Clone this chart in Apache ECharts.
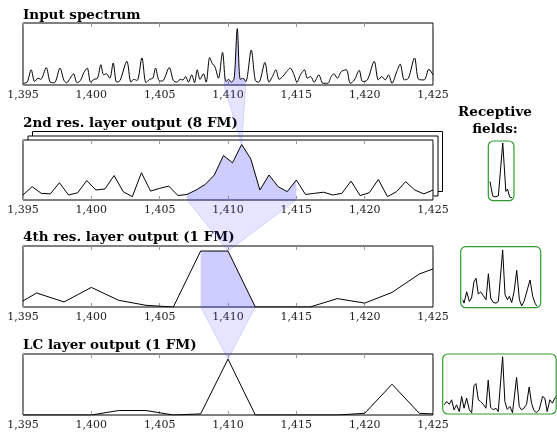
<!DOCTYPE html>
<html><head><meta charset="utf-8">
<script src="https://cdn.jsdelivr.net/npm/echarts@6/dist/echarts.min.js"></script>
<style>html,body{margin:0;padding:0;background:#fff}#c{width:557px;height:433px}</style>
</head><body><div id="c"></div>
<script>
// ---------- data ----------
const xTicks = [1395, 1400, 1405, 1410, 1415, 1420, 1425];

const inputX = [1395.0,1395.3,1395.6,1395.85,1396.1,1396.3,1396.7,1397.0,1397.3,1397.7,1398.0,1398.2,1398.45,1398.7,1398.95,1399.2,1399.45,1399.7,1399.95,1400.2,1400.45,1400.7,1400.9,1401.1,1401.35,1401.6,1401.85,1402.1,1402.6,1402.9,1403.1,1403.35,1403.7,1404.0,1404.25,1404.5,1404.7,1404.95,1405.2,1405.7,1406.0,1406.25,1406.5,1406.7,1406.9,1407.1,1407.35,1407.55,1407.75,1407.95,1408.2,1408.4,1408.66,1408.85,1409.05,1409.3,1409.6,1409.85,1410.05,1410.25,1410.45,1410.68,1410.9,1411.1,1411.3,1411.7,1412.0,1412.25,1412.7,1413.0,1413.25,1413.5,1413.75,1414.0,1414.3,1414.56,1414.8,1415.05,1415.3,1415.6,1415.8,1416.05,1416.3,1416.65,1416.95,1417.3,1417.55,1417.75,1418.0,1418.3,1418.66,1418.95,1419.25,1419.6,1419.85,1420.2,1420.7,1421.0,1421.25,1421.5,1421.75,1422.0,1422.35,1422.6,1422.9,1423.2,1423.65,1423.95,1424.35,1424.7,1425.0];
const inputY = [0.03,0.05,0.27,0.06,0.12,0.10,0.31,0.05,0.04,0.30,0.08,0.04,0.12,0.20,0.04,0.08,0.22,0.30,0.05,0.10,0.12,0.36,0.18,0.20,0.12,0.39,0.05,0.08,0.42,0.05,0.10,0.08,0.48,0.04,0.10,0.12,0.30,0.08,0.07,0.31,0.08,0.05,0.10,0.09,0.15,0.05,0.18,0.04,0.27,0.10,0.20,0.05,0.49,0.38,0.32,0.12,0.58,0.06,0.10,0.05,0.12,1.00,0.10,0.12,0.06,0.62,0.08,0.05,0.40,0.05,0.15,0.27,0.10,0.15,0.24,0.30,0.20,0.05,0.18,0.27,0.12,0.15,0.05,0.18,0.03,0.03,0.15,0.20,0.12,0.24,0.27,0.03,0.09,0.26,0.06,0.09,0.42,0.09,0.15,0.09,0.18,0.03,0.24,0.37,0.09,0.12,0.48,0.10,0.09,0.28,0.18];

// 2nd residual layer: 46 samples across 1395..1425
const res2Y = [0.09,0.24,0.12,0.11,0.31,0.09,0.13,0.35,0.18,0.20,0.44,0.15,0.06,0.49,0.16,0.21,0.25,0.08,0.10,0.18,0.28,0.45,0.80,0.67,1.00,0.74,0.18,0.45,0.24,0.15,0.36,0.10,0.12,0.14,0.09,0.12,0.34,0.08,0.13,0.37,0.06,0.15,0.33,0.18,0.11,0.18];
const res2X = res2Y.map((_, i) => xTicks[0] + i * (xTicks[6] - xTicks[0]) / (res2Y.length - 1));

const res4X = [1395,1396,1398,1400,1402,1404,1406,1408,1410,1412,1414,1416,1418,1420,1422,1424,1425];
const res4Y = [0.11,0.25,0.09,0.35,0.12,0.03,0.0,1.0,1.0,0.0,0.0,0.0,0.15,0.07,0.26,0.59,0.68];

const lcX = [1395,1396,1398,1400,1402,1404,1406,1408,1410,1412,1414,1416,1418,1420,1422,1424,1425];
const lcY = [0,0,0,0,0.08,0.08,0,0.02,1.0,0,0,0,0,0.03,0.55,0.03,0.02];

// receptive fields (relative position 0..1, weight)
const rf1X = [0,0.12,0.23,0.38,0.58,0.72,0.80,0.89,1.0];
const rf1Y = [0.30,0.04,0.02,0.04,1.0,0.12,0.16,0.02,0.0];
const rf2X = [0,0.018,0.054,0.09,0.12,0.153,0.18,0.21,0.243,0.279,0.315,0.347,0.378,0.414,0.45,0.482,0.54,0.572,0.604,0.63,0.662,0.694,0.73,0.766,0.797,0.829,0.856,0.91,0.946,0.977,1.0];
const rf2Y = [0.12,0.06,0.26,0.09,0.15,0.44,0.50,0.22,0.26,0.19,0.12,0.58,0.15,0.07,0.06,0.09,1.0,0.21,0.12,0.18,0.07,0.26,0.64,0.12,0.01,0.09,0.06,0.47,0.18,0.06,0.01];
const rf3X = [0,0.024,0.047,0.068,0.089,0.112,0.136,0.157,0.178,0.201,0.225,0.246,0.266,0.284,0.305,0.325,0.349,0.373,0.393,0.414,0.438,0.462,0.482,0.521,0.541,0.562,0.586,0.609,0.645,0.669,0.689,0.71,0.734,0.757,0.778,0.799,0.822,0.846,0.876,0.896,0.917,0.941,0.964,0.985,1.0];
const rf3Y = [0.14,0.20,0.15,0.23,0.05,0.14,0.02,0.29,0.08,0.26,0.05,0.0,0.48,0.52,0.23,0.20,0.15,0.08,0.58,0.10,0.05,0.08,0.02,1.0,0.20,0.06,0.11,0.0,0.63,0.11,0.05,0.08,0.15,0.46,0.17,0.04,0.0,0.05,0.29,0.26,0.02,0.23,0.17,0.26,0.30];

const titles = ['Input spectrum', '2nd res. layer output (8 FM)', '4th res. layer output (1 FM)', 'LC layer output (1 FM)'];
const rfTitle = ['Receptive', 'fields:'];
// receptive-field ranges (data units)
const fieldRanges = [[1409.7, 1411.3], [1407, 1415], [1408, 1412]];

// ---------- layout ----------
const P = [
  {left: 23, top: 23, width: 410, height: 62, ymax: 1.1, titleY: 15.3},
  {left: 23, top: 140, width: 410, height: 60, ymax: 1.08, titleY: 123.6},
  {left: 23, top: 246, width: 410, height: 61, ymax: 1.09, titleY: 237},
  {left: 23, top: 354, width: 410, height: 61, ymax: 1.09, titleY: 345.3}
];
const R = [
  {box: [488.3, 141, 25.7, 59.7], plot: {left: 490, top: 143, width: 22, height: 55}},
  {box: [460.7, 246.7, 80, 61], plot: {left: 462.7, top: 250, width: 74, height: 56.5}},
  {box: [442.7, 354, 113.5, 60], plot: {left: 444, top: 356.7, width: 112.5, height: 56}}
];
const SERIF = '"DejaVu Serif", serif';
const TFONT = 'bold 13.5px ' + SERIF;
const FILL = 'rgba(70,70,255,0.27)';
const CONE = 'rgba(70,70,255,0.14)';
const GREEN = '#2f9b2f';

const pair = (xs, ys) => xs.map((x, i) => [x, ys[i]]);
function interp(xs, ys, x) {
  for (let i = 1; i < xs.length; i++) {
    if (x <= xs[i]) { const t = (x - xs[i - 1]) / (xs[i] - xs[i - 1]); return ys[i - 1] + t * (ys[i] - ys[i - 1]); }
  }
  return ys[ys.length - 1];
}
function slice(xs, ys, a, b) {
  const out = [[a, interp(xs, ys, a)]];
  xs.forEach((x, i) => { if (x > a && x < b) out.push([x, ys[i]]); });
  out.push([b, interp(xs, ys, b)]);
  return out;
}
const fmt = v => v.toLocaleString('en-US');

const curves = [[inputX, inputY], [res2X, res2Y], [res4X, res4Y], [lcX, lcY]];
const smooth = [0.3, false, false, false];

const grids = [], xAxes = [], yAxes = [], series = [];
P.forEach(p => {
  grids.push({left: p.left, top: p.top, width: p.width, height: p.height, show: true,
    borderColor: '#000', borderWidth: 1, backgroundColor: '#fff', containLabel: false});
});
R.forEach(r => grids.push(Object.assign({show: false, containLabel: false}, r.plot)));

function mainX(i, top) {
  return {type: 'value', gridIndex: i, min: xTicks[0], max: xTicks[xTicks.length - 1], interval: xTicks[1] - xTicks[0],
    position: top ? 'top' : 'bottom',
    axisLine: {show: false},
    axisTick: {show: true, inside: true, length: 4, lineStyle: {color: '#999', width: 1}},
    axisLabel: {show: !top, margin: 5, fontFamily: SERIF, fontSize: 11, color: '#222', formatter: fmt,
      showMinLabel: true, showMaxLabel: true},
    splitLine: {show: false}};
}
for (let i = 0; i < 4; i++) xAxes.push(mainX(i, false));
for (let i = 0; i < 4; i++) xAxes.push(mainX(i, true));
for (let i = 0; i < 3; i++) xAxes.push({type: 'value', gridIndex: 4 + i, min: 0, max: 1, show: false});
for (let i = 0; i < 4; i++) yAxes.push({type: 'value', gridIndex: i, min: 0, max: P[i].ymax, show: false, splitLine: {show: false}});
for (let i = 0; i < 3; i++) yAxes.push({type: 'value', gridIndex: 4 + i, min: 0, max: 1, show: false, splitLine: {show: false}});

curves.forEach((c, i) => {
  if (i < 3) {
    series.push({type: 'line', xAxisIndex: i, yAxisIndex: i, data: slice(c[0], c[1], fieldRanges[i][0], fieldRanges[i][1]),
      smooth: smooth[i], showSymbol: false, lineStyle: {width: 0}, areaStyle: {color: FILL, opacity: 1, origin: 'start'},
      z: 1, silent: true, animation: false});
  }
  series.push({type: 'line', xAxisIndex: i, yAxisIndex: i, data: pair(c[0], c[1]), showSymbol: false, smooth: smooth[i],
    lineStyle: {color: '#000', width: 1}, z: 2, animation: false});
});
[[rf1X, rf1Y], [rf2X, rf2Y], [rf3X, rf3Y]].forEach((c, i) => {
  series.push({type: 'line', xAxisIndex: 8 + i, yAxisIndex: 4 + i, data: pair(c[0], c[1]), showSymbol: false,
    lineStyle: {color: '#000', width: 1}, z: 2, animation: false});
});

const chart = echarts.init(document.getElementById('c'), null, {renderer: 'canvas'});
chart.setOption({animation: false, grid: grids, xAxis: xAxes, yAxis: yAxes, series: series});

// ---------- graphics ----------
const g = [];
const p1 = P[1];
[[9, -9, -3], [4.5, -4.5, -2]].forEach(([dx, dy, z]) => {
  g.push({type: 'rect', z: z, shape: {x: p1.left + dx + 0.5, y: p1.top + dy + 0.5, width: p1.width, height: p1.height},
    style: {fill: '#fff', stroke: '#000', lineWidth: 1}});
});
titles.forEach((t, i) => g.push({type: 'text', z: 50, style: {text: t, x: P[i].left, y: P[i].titleY,
  font: TFONT, fill: '#000', textVerticalAlign: 'middle'}}));
g.push({type: 'text', z: 50, style: {text: rfTitle[0], x: 495, y: 112, font: TFONT, fill: '#000', textAlign: 'center', textVerticalAlign: 'middle'}});
g.push({type: 'text', z: 50, style: {text: rfTitle[1], x: 495, y: 129, font: TFONT, fill: '#000', textAlign: 'center', textVerticalAlign: 'middle'}});
R.forEach(r => g.push({type: 'rect', z: 10, shape: {x: r.box[0], y: r.box[1], width: r.box[2], height: r.box[3], r: 5},
  style: {fill: 'none', stroke: GREEN, lineWidth: 1.2}}));

const px = (i, pt) => chart.convertToPixel({xAxisIndex: i, yAxisIndex: i}, pt);
const targets = [];
{
  const m = res2Y.indexOf(Math.max(...res2Y));
  targets.push([res2X[m], res2Y[m]]);
  targets.push([1410, interp(res4X, res4Y, 1410)]);
  const k = lcY.indexOf(Math.max(...lcY));
  targets.push([lcX[k], lcY[k]]);
}
fieldRanges.forEach((r, i) => {
  const a = px(i, [r[0], 0]), b = px(i, [r[1], 0]), t = px(i + 1, targets[i]);
  g.push({type: 'polygon', z: 100, shape: {points: [a, b, t]},
    style: {fill: CONE, stroke: 'rgba(70,70,255,0.22)', lineWidth: 0.8}});
});
chart.setOption({graphic: {elements: g}});
</script>
</body></html>
